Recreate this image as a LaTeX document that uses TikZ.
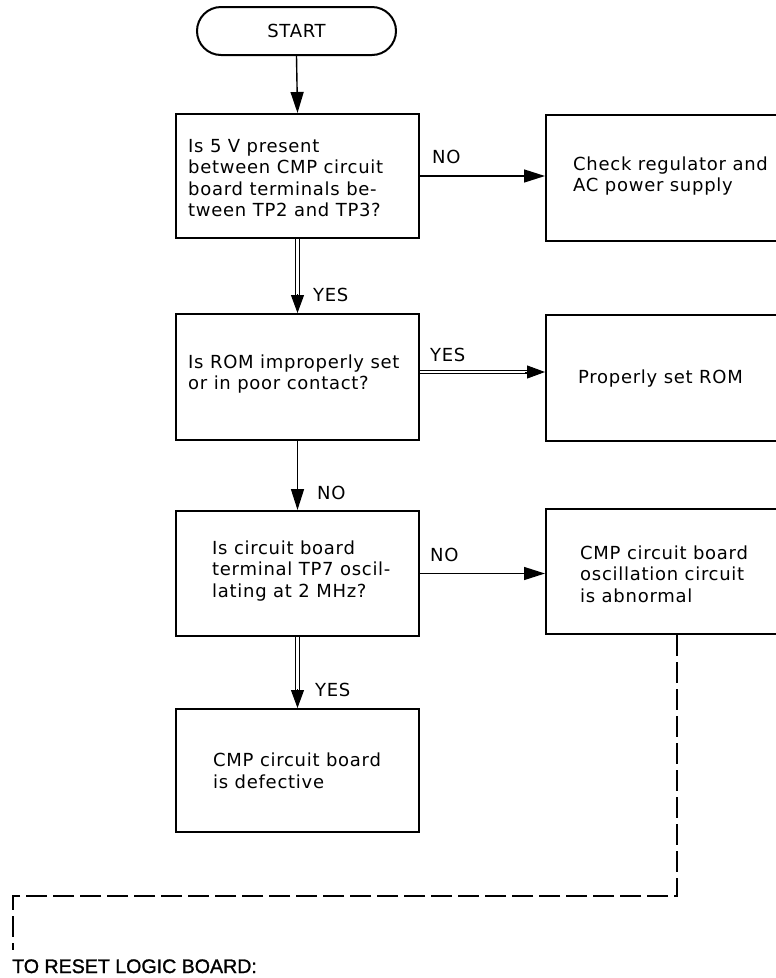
\documentclass[tikz,border=0pt]{standalone}
\usepackage{fontspec}
\setmainfont{Liberation Sans}
\newfontfamily\boxfont[LetterSpace=4]{DejaVu Sans}
\newfontfamily\resetfont[FakeBold=1.2]{Liberation Sans}
\usetikzlibrary{arrows.meta,calc}
\begin{document}
\begin{tikzpicture}[x=1pt,y=-1pt,
  frame/.style={draw, line width=2pt, anchor=north west, inner sep=0pt},
  txt/.style={anchor=west, align=left, inner sep=0pt, font=\boxfont\fontsize{18}{21.5}\selectfont},
  lbl/.style={anchor=west, inner sep=0pt, font=\boxfont\fontsize{18}{21.5}\selectfont},
  arr/.style={line width=1.4pt, -{Triangle[length=21pt,width=13pt]}},
  dbl/.style={line width=1.2pt, double, double distance=2.4pt, shorten >=16pt},
  tip/.style={line width=1pt, -{Triangle[length=18pt,width=13pt]}},
  dashline/.style={line width=2pt, dash pattern=on 21pt off 6pt}]
\useasboundingbox (0,0) rectangle (776,978);
\clip (0,0) rectangle (776,978);
% start
\node[draw, line width=2pt, rounded corners=24pt, minimum width=199pt, minimum height=48pt,
  font=\boxfont\fontsize{18}{21.5}\selectfont] (start) at (296.5,31) {START};
% left column frames
\node[frame, minimum width=243pt, minimum height=124pt] (b1) at (175,113) {};
\node[frame, minimum width=243pt, minimum height=126pt] (b2) at (175,313) {};
\node[frame, minimum width=243pt, minimum height=125pt] (b3) at (175,510) {};
\node[frame, minimum width=243pt, minimum height=123pt] (b4) at (175,708) {};
% right column frames (cut by the page edge)
\node[frame, minimum width=300pt, minimum height=126pt] (r1) at (545,114) {};
\node[frame, minimum width=300pt, minimum height=126pt] (r2) at (545,314) {};
\node[frame, minimum width=300pt, minimum height=125pt] (r3) at (545,508) {};
% texts
\node[txt] (t1) at (188,178) {Is 5 V present\\between CMP circuit\\board terminals be-\\tween TP2 and TP3?};
\node[txt] (t2) at (188,374) {Is ROM improperly set\\or in poor contact?};
\node[txt] (t3) at (212,571) {Is circuit board\\terminal TP7 oscil-\\lating at 2 MHz?};
\node[txt] (t4) at (213,771) {CMP circuit board\\is defective};
\node[txt] (s1) at (573,176) {Check regulator and\\AC power supply};
\node[txt] (s2) at (578,379) {Properly set ROM};
\node[txt] (s3) at (580,574) {CMP circuit board\\oscillation circuit\\is abnormal};
% branch labels
\node[lbl] (n1) at (432,157) {NO};
\node[lbl] (y1) at (313,295) {YES};
\node[lbl] (y2) at (430,355) {YES};
\node[lbl] (n2) at (317,493) {NO};
\node[lbl] (n3) at (430,555) {NO};
\node[lbl] (y3) at (315,690) {YES};
% connectors
\draw[arr] (start.south) -- (b1.north);
\draw[arr] (b1.east) -- (b1.east -| r1.west);
\draw[dbl] (b1.south) -- (b2.north);
\draw[tip] ($(b2.north)+(0,-19)$) -- (b2.north);
\draw[dbl] ([yshift=5pt]b2.east) -- ([yshift=5pt]b2.east -| r2.west);
\draw[tip] ($([yshift=5pt]b2.east -| r2.west)+(-20,0)$) -- ([yshift=5pt]b2.east -| r2.west);
\draw[arr] (b2.south) -- (b3.north);
\draw[arr] (b3.east) -- (b3.east -| r3.west);
\draw[dbl] (b3.south) -- (b4.north);
\draw[tip] ($(b4.north)+(0,-19)$) -- (b4.north);
% dashed return
\coordinate (dx) at (677,0);
\coordinate (dc) at (677,896);
\coordinate (dl) at (13,896);
\coordinate (dend) at (13,950);
\draw[dashline] (r3.south -| dx) -- (dc) -- (dl) -- (dend);
\node[anchor=base west, inner sep=0pt, font=\resetfont\fontsize{19.6}{23}\selectfont] (reset) at (12,973) {TO RESET LOGIC BOARD:};
\end{tikzpicture}
\end{document}
